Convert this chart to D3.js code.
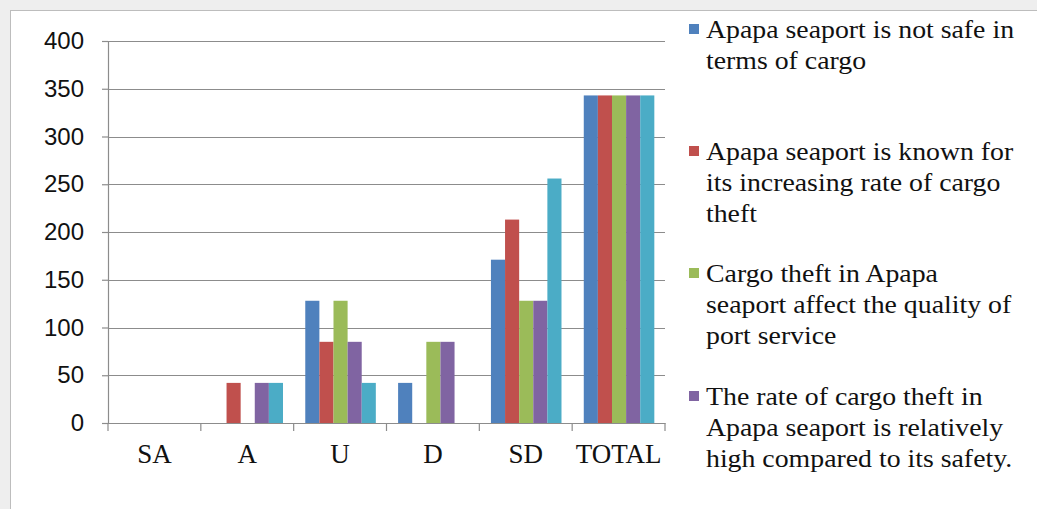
<!DOCTYPE html>
<html>
<head>
<meta charset="utf-8">
<script src="https://cdn.jsdelivr.net/npm/d3@7/dist/d3.min.js"></script>
<style>
  html, body { margin: 0; padding: 0; background: #eeeeee; }
  svg { display: block; }
  text { fill: #111; }
</style>
</head>
<body>
<svg id="chart" width="1037" height="509"></svg>
<script>
// ---- data ----
const categories = ["SA", "A", "U", "D", "SD", "TOTAL"];
const seriesNames = [
  "Apapa seaport is not safe in terms of cargo",
  "Apapa seaport is known for its increasing rate of cargo theft",
  "Cargo theft in Apapa seaport affect the quality of port service",
  "The rate of cargo theft in Apapa seaport is relatively high compared to its safety.",
  "Series 5"
];
const legendLines = [
  ["Apapa seaport is not safe in", "terms of cargo"],
  ["Apapa seaport is known for", "its increasing rate of cargo", "theft"],
  ["Cargo theft in Apapa", "seaport affect the quality of", "port service"],
  ["The rate of cargo theft in", "Apapa seaport is relatively", "high compared to its safety."]
];
const series1 = [0, 0, 128, 42, 171, 343];
const series2 = [0, 42, 85, 0, 213, 343];
const series3 = [0, 0, 128, 85, 128, 343];
const series4 = [0, 42, 85, 85, 128, 343];
const series5 = [0, 42, 42, 0, 256, 343];
const seriesValues = [series1, series2, series3, series4, series5];
const colors = ["#4F81BD", "#C0504D", "#9BBB59", "#8064A2", "#4BACC6"];
const yTicks = [0, 50, 100, 150, 200, 250, 300, 350, 400];

// ---- layout ----
const svg = d3.select("#chart");
svg.append("rect").attr("x", 10.5).attr("y", 10.5).attr("width", 1100).attr("height", 600)
  .attr("fill", "#ffffff").attr("stroke", "#bdbdbd").attr("stroke-width", 1);

const plot = { left: 108, right: 665, top: 41, bottom: 423 };
const x0 = d3.scaleBand().domain(categories).range([plot.left, plot.right]).paddingInner(0).paddingOuter(0);
const bw = x0.bandwidth();
const x1 = d3.scaleBand().domain(d3.range(seriesValues.length)).range([bw * 0.125, bw * 0.885]).padding(0);
const y = d3.scaleLinear().domain([0, 400]).range([plot.bottom, plot.top]);

// gridlines + y axis
const yAxis = d3.axisLeft(y).tickValues(yTicks).tickSize(6).tickPadding(18);
const gy = svg.append("g").attr("transform", `translate(${plot.left},0)`).call(yAxis)
  .attr("font-family", "'Liberation Sans', Arial, sans-serif").attr("font-size", 24);
gy.select(".domain").attr("stroke", "#8c8c8c").attr("stroke-width", 1.2);
gy.selectAll(".tick line").attr("stroke", "#8c8c8c").attr("stroke-width", 1.2);
gy.selectAll(".tick text").attr("fill", "#222");

svg.append("g").selectAll("line").data(yTicks.filter(d => d > 0)).join("line")
  .attr("x1", plot.left).attr("x2", plot.right)
  .attr("y1", d => Math.round(y(d)) + 0.5).attr("y2", d => Math.round(y(d)) + 0.5)
  .attr("stroke", "#8c8c8c").attr("stroke-width", 1.2);

// bars
const groups = svg.append("g").selectAll("g").data(categories).join("g")
  .attr("transform", d => `translate(${x0(d)},0)`);
groups.selectAll("rect").data((c, i) => seriesValues.map((s, k) => ({ k, v: s[i] }))).join("rect")
  .attr("x", d => x1(d.k))
  .attr("width", x1.bandwidth())
  .attr("y", d => y(d.v))
  .attr("height", d => y(0) - y(d.v))
  .attr("fill", d => colors[d.k]);

// x axis
const xAxis = d3.axisBottom(x0).tickSize(0).tickPadding(21);
const gx = svg.append("g").attr("transform", `translate(0,${plot.bottom})`).call(xAxis)
  .attr("font-family", "'Liberation Serif', 'Times New Roman', serif").attr("font-size", 27);
gx.select(".domain").attr("stroke", "#8c8c8c").attr("stroke-width", 1.2);
gx.selectAll(".tick text").attr("fill", "#111");
const boundaries = categories.map(c => x0(c)).concat([plot.right]);
svg.append("g").selectAll("line").data(boundaries).join("line")
  .attr("x1", d => d).attr("x2", d => d)
  .attr("y1", plot.bottom).attr("y2", plot.bottom + 8)
  .attr("stroke", "#8c8c8c").attr("stroke-width", 1.2);

// legend
const legendTop = [38, 160, 282, 405];
const leg = svg.append("g").selectAll("g").data(legendLines).join("g")
  .attr("transform", (d, i) => `translate(0,${legendTop[i]})`);
leg.append("rect").attr("x", 689).attr("y", -14).attr("width", 10).attr("height", 10)
  .attr("fill", (d, i) => colors[i]);
leg.append("text").attr("transform", "translate(706,0) scale(1.07,1)")
  .attr("font-family", "'Liberation Serif', 'Times New Roman', serif").attr("font-size", 26)
  .selectAll("tspan").data(d => d).join("tspan")
  .attr("x", 0).attr("dy", (d, i) => i === 0 ? 0 : 31).text(d => d);
</script>
</body>
</html>
